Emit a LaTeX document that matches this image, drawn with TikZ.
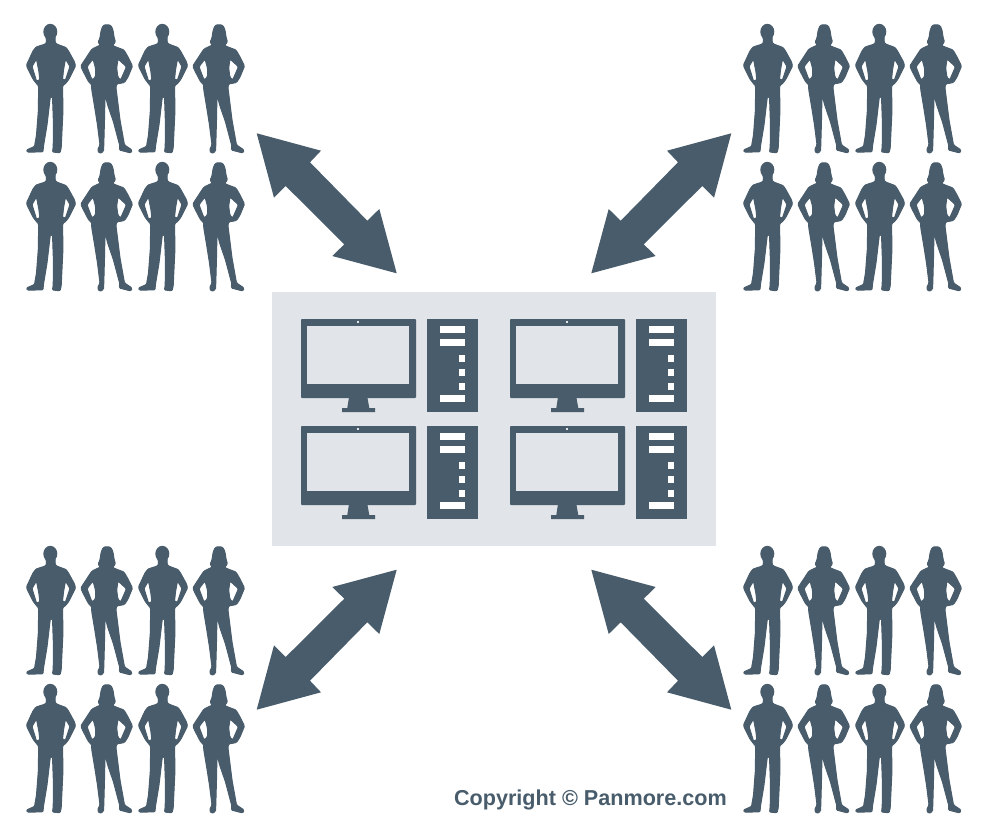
\documentclass[tikz,border=0pt]{standalone}
\usepackage{fontspec}
\setmainfont{Liberation Sans}
\definecolor{slate}{HTML}{485C6B}
\definecolor{panel}{HTML}{E1E4E8}
\tikzset{
 figink/.style={fill=slate,draw=slate,line width=1pt,line join=round},
 manfig/.pic={
  \fill[slate] (50.3,31.8) ellipse [x radius=7,y radius=8];
  \path[figink,even odd rule,rounded corners=1pt]
   (46,36) -- (46.5,42) -- (45.5,44) -- (36,47) -- (33,51) -- (26.5,65) -- (27.5,68) -- (33,79) -- (36,83) -- (38.6,86)
   -- (38.4,110) -- (36.5,135) -- (34.5,146.5) -- (26.5,150) -- (27.5,152.2) -- (43,151.8) -- (43.5,146) -- (47,125) -- (50.3,97)
   -- (52.5,97) -- (53.5,125) -- (53.2,147) -- (52.5,152) -- (60,152.8) -- (61.2,148) -- (63,110) -- (62.5,86) -- (66,83) -- (69,79)
   -- (75.5,66) -- (74.5,62) -- (68.5,51) -- (66,47.5) -- (56.5,44) -- (55,42) -- (55,36) -- cycle
   (36.5,59) -- (32,66.5) -- (36.5,81) -- (39.8,80) -- (39,72) -- cycle
   (65.5,59) -- (70,66.5) -- (65.5,80) -- (62.5,79.5) -- (63.5,70) -- cycle;
 },
 womanfig/.pic={
  \path[figink,even odd rule,rounded corners=1.2pt]
   (107,24.5) -- (103,25.5) -- (101,31) -- (100,38) -- (98,42.5) -- (100.5,45) -- (92,49) -- (88,55) -- (80.8,66)
   -- (83,71) -- (89,82.5) -- (91.5,84) -- (91.8,90) -- (94.5,106) -- (97.5,125) -- (100,145) -- (97.5,150) -- (99.7,153.5) -- (103.5,151.5) -- (103.8,145)
   -- (104.5,120) -- (105,95) -- (108,106) -- (113.5,122) -- (120,146.5) -- (119.2,150) -- (131,153) -- (132,150) -- (124.5,145)
   -- (120,120) -- (116,88) -- (116.5,84) -- (124.5,82.5) -- (128,77) -- (132.5,66) -- (128,57) -- (124,50) -- (116,47) -- (112.5,45.5) -- (115.5,42) -- (114,37) -- (113,30) -- (111,25.5) -- cycle
   (93,59) -- (87,66.7) -- (92,80) -- (95.5,77) -- (95.5,68) -- cycle
   (118,59) -- (126.5,66.7) -- (120.7,80) -- (117.8,77) -- (116.7,68) -- cycle;
 },
 duofig/.pic={
  \pic at (0,0) {manfig}; \pic at (0,0) {womanfig};
  \pic at (112,0) {manfig}; \pic at (112,0) {womanfig};
 },
 crowdfig/.pic={
  \pic at (0,0) {duofig}; \pic at (0,138) {duofig};
 },
 blockarrow/.pic={
  \fill[slate] (256.7,133.3) -- (321,150.7) -- (310,162.3) -- (367.3,220.7) -- (379.3,209) -- (396.7,273.3)
   -- (332.3,256) -- (344.3,244.3) -- (285.7,186) -- (274,197.7) -- cycle;
 },
 pcfig/.pic={
  \fill[slate,rounded corners=0.8pt] (301,319) rectangle (416,398);
  \fill[panel] (307,326) rectangle (409,384);
  \fill[panel] (357.3,321.3) rectangle (359,323);
  \fill[slate] (349,397) -- (367.3,397) -- (369.3,408) -- (375,408) -- (375,412) -- (342,412) -- (342,408) -- (347.3,408) -- cycle;
  \fill[slate] (427,319) rectangle (478,412);
  \foreach \yy in {326,339,395} {\fill[white] (440,\yy) rectangle (465,\yy+7);}
  \foreach \yy in {355,369,383} {\fill[white] (459,\yy) rectangle (465,\yy+7);}
 }
}
\begin{document}
\begin{tikzpicture}[x=1pt,y=-1pt]
\useasboundingbox (0,0) rectangle (988,830);
\fill[white] (0,0) rectangle (988,830);
\fill[panel] (272,292) rectangle (716,546);
\foreach \dx in {0,209} \foreach \dy in {0,107} { \pic at (\dx,\dy) {pcfig}; }
\foreach \dx in {0,717} \foreach \dy in {0,522} { \pic at (\dx,\dy) {crowdfig}; }
\pic at (0,0) {blockarrow};
\pic[xscale=-1,transform shape] at (988,0) {blockarrow};
\pic[yscale=-1,transform shape] at (0,843) {blockarrow};
\pic[xscale=-1,yscale=-1,transform shape] at (988,843) {blockarrow};
\node[anchor=base east,inner sep=0pt,text=slate,font=\bfseries\fontsize{21.6}{25}\selectfont] (credit) at (727,805.5) {Copyright © Panmore.com};
\end{tikzpicture}
\end{document}
